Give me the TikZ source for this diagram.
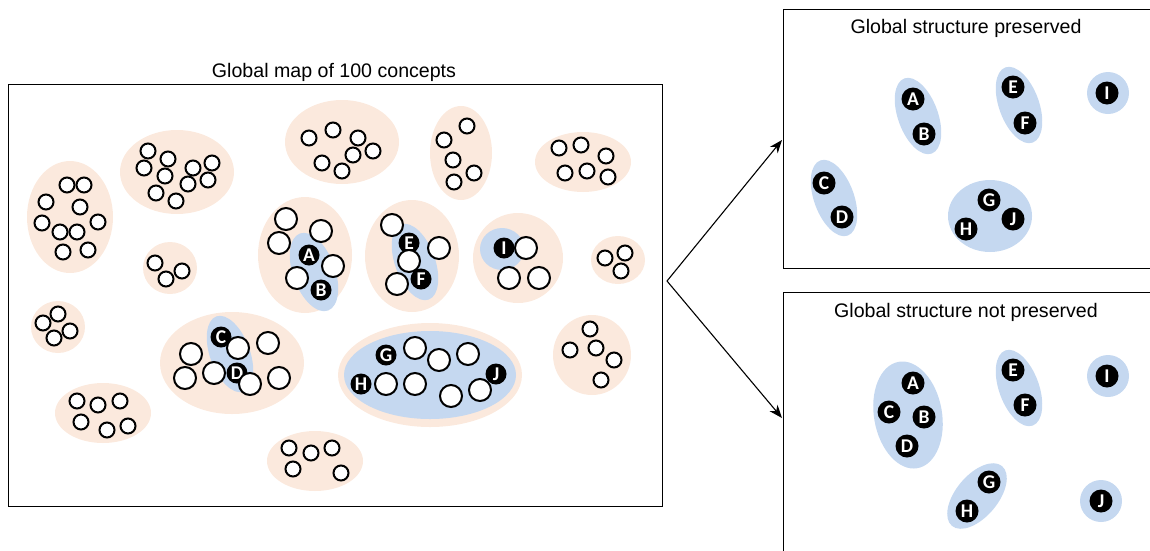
\documentclass[tikz,border=0pt]{standalone}
\usepackage{fontspec}
\setmainfont{Liberation Sans}
\newfontfamily\tagfont{Carlito}
\usetikzlibrary{arrows.meta}

\definecolor{clustertan}{RGB}{251,233,221}
\definecolor{groupblue}{RGB}{197,216,240}

\tikzset{
  dot/.style={circle, draw, line width=2pt, fill=white, inner sep=0pt, minimum size=15pt},
  bigdot/.style={dot, minimum size=22pt},
  tag/.style={circle, fill=black, text=white, inner sep=0pt, minimum size=21pt,
    font=\tagfont\bfseries\fontsize{19.5}{19.5}\selectfont},
  bigtag/.style={tag, minimum size=23pt},
  heading/.style={anchor=base, font=\fontsize{19.6}{22}\selectfont},
  panel/.style={draw, line width=1.4pt, inner sep=0pt, anchor=north west},
}

\begin{document}
\begin{tikzpicture}[x=1pt, y=-1pt]

    \useasboundingbox (0,0) rectangle (1150,550);
    \clip (0,0) rectangle (1150,550);

    % the full map
    \node[panel, minimum width=654pt, minimum height=422pt] (map) at (8,84) {};
    \node[heading] (maptitle) at (334,77) {Global map of 100 concepts};

    \fill[clustertan] (70,217) ellipse [x radius=43, y radius=56];
    \fill[clustertan] (177,172) ellipse [x radius=57, y radius=42];
    \fill[clustertan] (170,268) ellipse [x radius=27, y radius=26];
    \fill[clustertan] (342,142) ellipse [x radius=57, y radius=42];
    \fill[clustertan] (461,153) ellipse [x radius=31, y radius=47];
    \fill[clustertan] (583,162) ellipse [x radius=48, y radius=30];
    \fill[clustertan] (618,260) ellipse [x radius=27, y radius=24];
    \fill[clustertan] (592,355) ellipse [x radius=39, y radius=40];
    \fill[clustertan] (58,327) ellipse [x radius=27, y radius=26];
    \fill[clustertan] (103,413) ellipse [x radius=48, y radius=30];
    \fill[clustertan] (315,461) ellipse [x radius=48, y radius=30];
    \fill[clustertan] (305,255) ellipse [x radius=47, y radius=58];
    \fill[clustertan] (412,256) ellipse [x radius=47, y radius=56];
    \fill[clustertan] (518,258) ellipse [x radius=45, y radius=45];
    \fill[clustertan] (232,363) ellipse [x radius=72, y radius=51];
    \fill[clustertan] (430,375) ellipse [x radius=92, y radius=52];

    \fill[groupblue, rotate around={20:(314,272)}] (314,272) ellipse [x radius=21, y radius=41];
    \fill[groupblue, rotate around={20:(415,262)}] (415,262) ellipse [x radius=20, y radius=40];
    \fill[groupblue] (502,249) ellipse [x radius=22, y radius=21];
    \fill[groupblue, rotate around={20:(230,354)}] (230,354) ellipse [x radius=20, y radius=40];
    \fill[groupblue] (430,375) ellipse [x radius=86, y radius=44];

    \foreach \x/\y [count=\i] in {67/185, 84/185, 46/202, 80/207, 42/223, 60/232, 77/232, 98/222, 63/252, 88/250}
      \node[dot] (k1-\i) at (\x,\y) {};
    \foreach \x/\y [count=\i] in {148/151, 168/159, 144/168, 193/168, 212/163, 165/176, 188/184, 208/180, 156/193, 176/201}
      \node[dot] (k2-\i) at (\x,\y) {};
    \foreach \x/\y [count=\i] in {155/263, 182/271, 166/279}
      \node[dot] (k3-\i) at (\x,\y) {};
    \foreach \x/\y [count=\i] in {309/138, 333/130, 358/138, 373/151, 353/155, 322/163, 342/171}
      \node[dot] (k4-\i) at (\x,\y) {};
    \foreach \x/\y [count=\i] in {467/126, 444/140, 453/160, 474/173, 454/182}
      \node[dot] (k5-\i) at (\x,\y) {};
    \foreach \x/\y [count=\i] in {559/148, 581/145, 606/156, 565/173, 587/171, 608/177}
      \node[dot] (k6-\i) at (\x,\y) {};
    \foreach \x/\y [count=\i] in {605/258, 625/253, 621/271}
      \node[dot] (k7-\i) at (\x,\y) {};
    \foreach \x/\y [count=\i] in {590/329, 570/350, 596/348, 614/360, 601/380}
      \node[dot] (k8-\i) at (\x,\y) {};
    \foreach \x/\y [count=\i] in {58/314, 43/323, 70/331, 54/338}
      \node[dot] (k9-\i) at (\x,\y) {};
    \foreach \x/\y [count=\i] in {77/401, 98/405, 120/401, 81/422, 107/430, 128/426}
      \node[dot] (k10-\i) at (\x,\y) {};
    \foreach \x/\y [count=\i] in {289/448, 311/453, 332/448, 293/469, 341/473}
      \node[dot] (k11-\i) at (\x,\y) {};

    % A, B
    \foreach \x/\y [count=\i] in {286/219, 321/231, 279/243, 333/266, 297/278}
      \node[bigdot] (ab-\i) at (\x,\y) {};
    \node[tag] (mA) at (309,255) {A};
    \node[tag] (mB) at (321,290) {B};

    % E, F
    \node[bigdot] (ef-1) at (392,225) {};
    \node[bigdot] (ef-2) at (439,248) {};
    \node[tag] (mE) at (409,243) {E};
    \node[bigdot] (ef-3) at (409,261) {};
    \node[bigdot] (ef-4) at (397,284) {};
    \node[tag] (mF) at (421,279) {F};

    % I
    \node[tag] (mI) at (504,248) {I};
    \foreach \x/\y [count=\i] in {526/248, 509/278, 539/278}
      \node[bigdot] (i-\i) at (\x,\y) {};

    % C, D
    \foreach \x/\y [count=\i] in {191/354, 268/343, 185/378, 279/378}
      \node[bigdot] (cd-\i) at (\x,\y) {};
    \node[tag] (mC) at (221,337) {C};
    \node[bigdot] (cd-5) at (238,348) {};
    \node[bigdot] (cd-6) at (214,373) {};
    \node[tag] (mD) at (237,373) {D};
    \node[bigdot] (cd-7) at (250,384) {};

    % G, H, J
    \node[tag] (mG) at (386,355) {G};
    \node[tag] (mH) at (361,384) {H};
    \node[tag] (mJ) at (496,374) {J};
    \foreach \x/\y [count=\i] in {415/348, 439/360, 468/354, 386/384, 415/384, 451/396, 480/390}
      \node[bigdot] (ghj-\i) at (\x,\y) {};

    % the two projections
    \node[panel, minimum width=372pt, minimum height=259pt] (kept) at (783,9) {};
    \node[heading] (kepttitle) at (966,33) {Global structure preserved};
    \node[panel, minimum width=372pt, minimum height=270pt] (lost) at (783,292) {};
    \node[heading] (losttitle) at (966,317) {Global structure not preserved};

    \coordinate (fork) at (667,281);
    \coordinate (toKept) at (782,140);
    \coordinate (toLost) at (782,418);
    \draw[line width=1.1pt, -{Stealth[length=13pt, width=10pt, inset=4pt]}] (fork) -- (toKept);
    \draw[line width=1.1pt, -{Stealth[length=13pt, width=10pt, inset=4pt]}] (fork) -- (toLost);

    \fill[groupblue, rotate around={20:(918,116)}] (918,116) ellipse [x radius=20, y radius=40];
    \fill[groupblue, rotate around={20:(1019,105)}] (1019,105) ellipse [x radius=20, y radius=40];
    \fill[groupblue, rotate around={20:(834,198)}] (834,198) ellipse [x radius=20, y radius=40];
    \fill[groupblue] (1108,93) circle [radius=21];
    \fill[groupblue] (990,216) ellipse [x radius=42, y radius=36];

    \node[bigtag] (pA) at (913,99) {A};
    \node[bigtag] (pB) at (924,134) {B};
    \node[bigtag] (pE) at (1013,87) {E};
    \node[bigtag] (pF) at (1025,123) {F};
    \node[bigtag] (pI) at (1107,93) {I};
    \node[bigtag] (pC) at (824,183) {C};
    \node[bigtag] (pD) at (842,217) {D};
    \node[bigtag] (pG) at (989,200) {G};
    \node[bigtag] (pJ) at (1013,219) {J};
    \node[bigtag] (pH) at (966,229) {H};

    \fill[groupblue, rotate around={10:(908,415)}] (908,415) ellipse [x radius=34, y radius=54];
    \fill[groupblue, rotate around={20:(1019,388)}] (1019,388) ellipse [x radius=20, y radius=40];
    \fill[groupblue] (1108,376) circle [radius=21];
    \fill[groupblue, rotate around={-40:(977,496)}] (977,496) ellipse [x radius=21, y radius=39];
    \fill[groupblue] (1101,501) circle [radius=21];

    \node[bigtag] (nA) at (913,383) {A};
    \node[bigtag] (nC) at (889,412) {C};
    \node[bigtag] (nB) at (924,417) {B};
    \node[bigtag] (nD) at (907,446) {D};
    \node[bigtag] (nE) at (1013,370) {E};
    \node[bigtag] (nF) at (1025,405) {F};
    \node[bigtag] (nI) at (1107,376) {I};
    \node[bigtag] (nG) at (989,482) {G};
    \node[bigtag] (nH) at (967,511) {H};
    \node[bigtag] (nJ) at (1101,501) {J};

\end{tikzpicture}
\end{document}
